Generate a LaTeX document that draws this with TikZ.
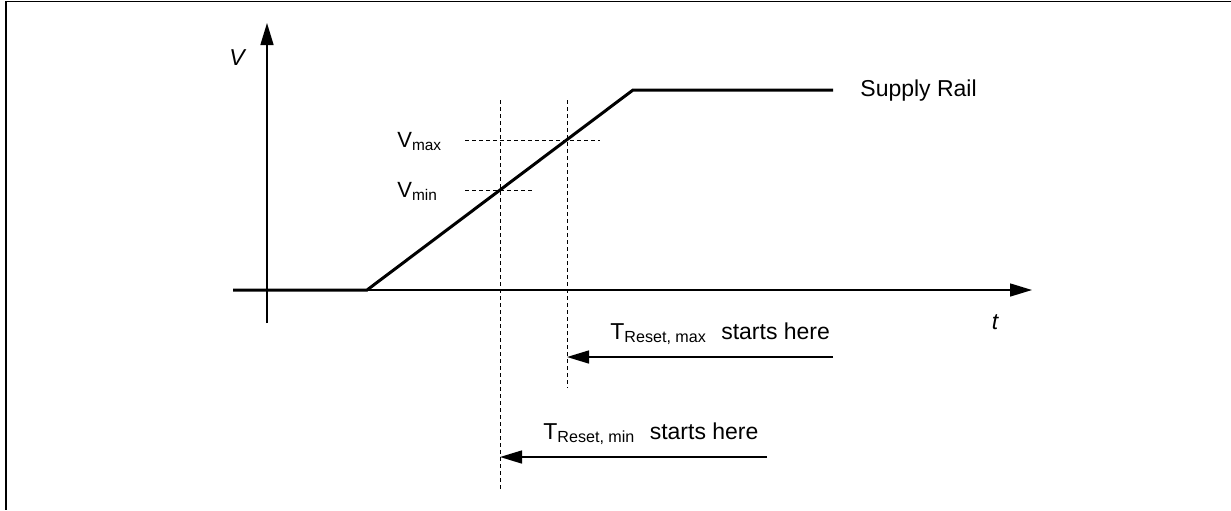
\documentclass[tikz,border=0pt]{standalone}
\usepackage{fontspec}
\setmainfont{Liberation Sans}
\usetikzlibrary{arrows.meta,positioning}
\tikzset{
    rsAxis/.style={-{Triangle[length=11pt,width=6.5pt]},line width=0.75pt},
    rsSupply/.style={line width=1.5pt,line join=miter},
    rsGuide/.style={dash pattern=on 2pt off 1.5pt,line width=0.5pt},
    rsStart/.style={-{Triangle[length=11pt,width=6.5pt]},line width=0.75pt},
    rsLabel/.style={inner sep=0pt,anchor=base west,font=\fontsize{11.5}{14}\selectfont},
    rsAxisLabel/.style={inner sep=0pt,font=\fontsize{11.5}{14}\selectfont\itshape}
}

\begin{document}
\begin{tikzpicture}[x=0.5pt,y=-0.5pt]
    \useasboundingbox (0,0) rectangle (1231,510);
    % frame
    \draw[line width=0.5pt] (1231,1) -- (6,1);
    \draw[line width=1pt] (6,1) -- (6,510);

    % axes
    \coordinate (vbot) at (267,323);
    \coordinate (vtop) at (267,23);
    \coordinate (tleft) at (233,290);
    \coordinate (ttip) at (1032,290);
    \draw[rsAxis] (vbot) -- (vtop);
    \draw[rsAxis] (tleft) -- (ttip);
    \node[rsAxisLabel] (vlbl) at (237,58) {V};
    \node[rsAxisLabel] (tlbl) at (995,322) {t};

    % supply ramp
    \coordinate (rampstart) at (367,290);
    \coordinate (rampend) at (633,90);
    \coordinate (railend) at (833,90);
    \draw[rsSupply] (tleft) -- (rampstart) -- (rampend) -- (railend);
    \node[rsLabel] (raillbl) at (860,96) {Supply Rail};

    % thresholds
    \coordinate (minleft) at (465,190);
    \coordinate (minright) at (532,190);
    \coordinate (maxleft) at (465,140);
    \coordinate (maxright) at (600,140);
    \draw[rsGuide] (minleft) -- (minright);
    \draw[rsGuide] (maxleft) -- (maxright);
    \node[rsLabel,font=\fontsize{11}{13}\selectfont] (vmaxlbl) at (397,147) {V\textsubscript{max}};
    \node[rsLabel,font=\fontsize{11}{13}\selectfont] (vminlbl) at (397,197) {V\textsubscript{min}};

    % crossing times
    \coordinate (mintop) at (500,100);
    \coordinate (minbot) at (500,492);
    \coordinate (maxtop) at (567,100);
    \coordinate (maxbot) at (567,388);
    \draw[rsGuide] (mintop) -- (minbot);
    \draw[rsGuide] (maxtop) -- (maxbot);

    % reset start arrows
    \coordinate (maxhit) at (567,357);
    \coordinate (maxfrom) at (833,357);
    \coordinate (minhit) at (500,457);
    \coordinate (minfrom) at (767,457);
    \draw[rsStart] (maxfrom) -- (maxhit);
    \draw[rsStart] (minfrom) -- (minhit);
    \node[rsLabel] (maxlbl) at (610,339) {T\textsubscript{Reset, max}\hspace{4pt} starts here};
    \node[rsLabel] (minlbl) at (543,439) {T\textsubscript{Reset, min}\hspace{4pt} starts here};
\end{tikzpicture}
\end{document}
